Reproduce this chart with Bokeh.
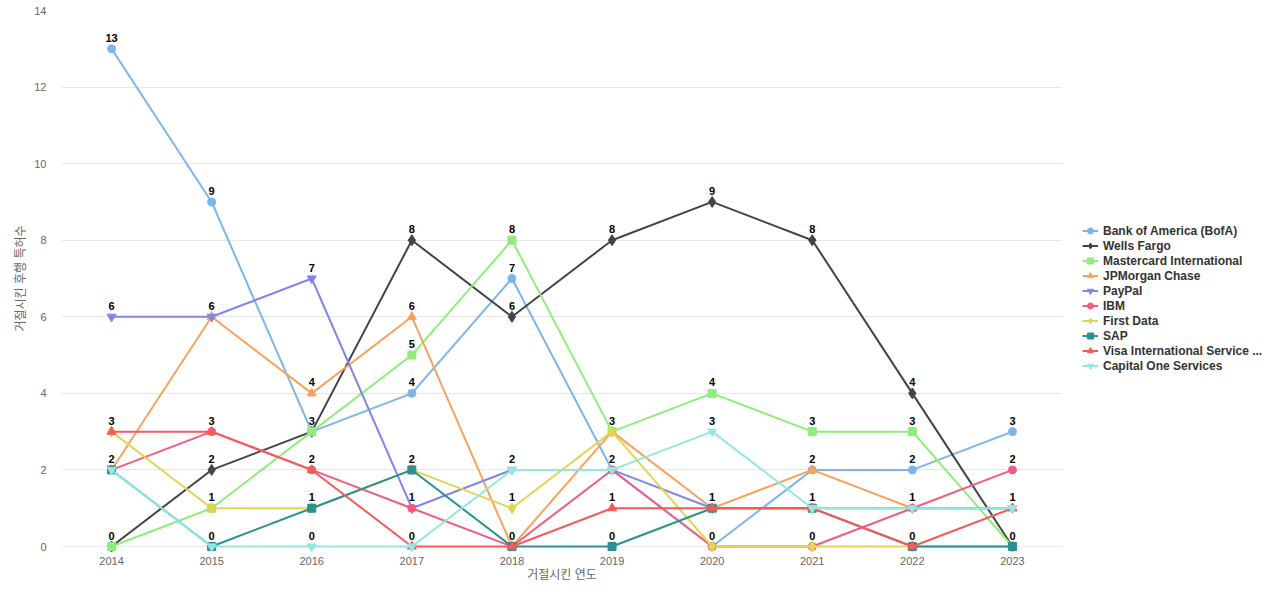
from bokeh.plotting import figure
from bokeh.models import (ColumnDataSource, Legend, LegendItem, FixedTicker,
                          Span, Range1d, FactorRange)
from bokeh.layouts import row
from bokeh.core.properties import value
from bokeh.embed import file_html
from bokeh.resources import INLINE

years = ["2014", "2015", "2016", "2017", "2018", "2019", "2020", "2021", "2022", "2023"]

series_names = [
    "Bank of America (BofA)", "Wells Fargo", "Mastercard International",
    "JPMorgan Chase", "PayPal", "IBM", "First Data", "SAP",
    "Visa International Service ...", "Capital One Services",
]

bofa = [13, 9, 3, 4, 7, 2, 0, 2, 2, 3]
wells = [0, 2, 3, 8, 6, 8, 9, 8, 4, 0]
mastercard = [0, 1, 3, 5, 8, 3, 4, 3, 3, 0]
jpmorgan = [2, 6, 4, 6, 0, 3, 1, 2, 1, 1]
paypal = [6, 6, 7, 1, 2, 2, 1, 1, 1, 1]
ibm = [2, 3, 2, 1, 0, 2, 0, 0, 1, 2]
first_data = [3, 1, 1, 2, 1, 3, 0, 0, 0, 0]
sap = [2, 0, 1, 2, 0, 0, 1, 1, 0, 0]
visa = [3, 3, 2, 0, 0, 1, 1, 1, 0, 1]
capital_one = [2, 0, 0, 0, 2, 2, 3, 1, 1, 1]

series_values = [bofa, wells, mastercard, jpmorgan, paypal, ibm,
                 first_data, sap, visa, capital_one]

colors = ["#7cb5ec", "#434348", "#90ed7d", "#f7a35c", "#8085e9",
          "#f15c80", "#e4d354", "#2b908f", "#f45b5b", "#91e8e1"]
markers = ["circle", "diamond", "square", "triangle", "inverted_triangle"] * 2
marker_sizes = {"circle": 8, "diamond": 11, "square": 8, "triangle": 9, "inverted_triangle": 9}

FONT = "Liberation Sans, Noto Sans CJK KR"

p = figure(width=1070, height=584,
           x_range=FactorRange(*years, range_padding=0),
           y_range=Range1d(0, 14),
           output_backend="svg", toolbar_location=None,
           min_border_left=61, min_border_top=10, min_border_bottom=38,
           min_border_right=8)

p.outline_line_color = None
p.background_fill_color = "white"
p.border_fill_color = "white"

# grid
p.xgrid.grid_line_color = None
p.ygrid.grid_line_color = "#e6e6e6"
p.ygrid.grid_line_width = 1

# y axis
p.yaxis.ticker = FixedTicker(ticks=[0, 2, 4, 6, 8, 10, 12, 14])
p.yaxis.axis_line_color = None
p.yaxis.major_tick_line_color = None
p.yaxis.minor_tick_line_color = None
p.yaxis.major_tick_out = 0
p.yaxis.major_tick_in = 0
p.yaxis.minor_tick_out = 0
p.yaxis.major_label_standoff = 15
p.yaxis.major_label_text_font = FONT
p.yaxis.major_label_text_font_size = "11px"
p.yaxis.major_label_text_color = "#666666"
p.yaxis.axis_label = "거절시킨 후행 특허수"
p.yaxis.axis_label_text_font = FONT
p.yaxis.axis_label_text_font_size = "12px"
p.yaxis.axis_label_text_font_style = "normal"
p.yaxis.axis_label_text_color = "#666666"
p.yaxis.axis_label_standoff = 3

# x axis
p.xaxis.axis_line_color = None
p.xaxis.major_tick_line_color = None
p.xaxis.minor_tick_line_color = None
p.xaxis.major_tick_out = 0
p.xaxis.major_tick_in = 0
p.xaxis.major_label_standoff = 10
p.xaxis.major_label_text_font = FONT
p.xaxis.major_label_text_font_size = "11px"
p.xaxis.major_label_text_color = "#666666"
p.xaxis.axis_label = "거절시킨 연도"
p.xaxis.axis_label_text_font = FONT
p.xaxis.axis_label_text_font_size = "12px"
p.xaxis.axis_label_text_font_style = "normal"
p.xaxis.axis_label_text_color = "#666666"
p.xaxis.axis_label_standoff = 0

p.add_layout(Span(location=0, dimension="width", line_color="#ccd6eb", line_width=1,
                  level="underlay"))

# legend figure (separate panel on the right)
lf = figure(width=194, height=584, output_backend="svg", toolbar_location=None,
            x_range=Range1d(0, 1), y_range=Range1d(0, 1),
            x_axis_type=None, y_axis_type=None,
            min_border_left=0, min_border_right=0, min_border_top=0, min_border_bottom=0)
lf.outline_line_color = None
lf.xgrid.visible = False
lf.ygrid.visible = False

items = []
for name, vals, col, mk in zip(series_names, series_values, colors, markers):
    src = ColumnDataSource(dict(x=years, y=vals))
    ln = p.line("x", "y", source=src, line_color=col, line_width=2, level="overlay")
    sc = p.scatter("x", "y", source=src, marker=mk, size=marker_sizes[mk],
                   fill_color=col, line_color=col, line_width=1, level="overlay")
    # legend proxies: a single point kept outside the legend panel's visible range
    lln = lf.line(x=[-5, -4], y=[-5, -5], line_color=col, line_width=2)
    lsc = lf.scatter(x=[-5], y=[-5], marker=mk, size=marker_sizes[mk],
                     fill_color=col, line_color=col, line_width=1)
    items.append(LegendItem(label=name, renderers=[lln, lsc]))

# data labels: one per distinct value at each year
lx, ly, lt = [], [], []
for i, yr in enumerate(years):
    seen = sorted({vals[i] for vals in series_values})
    for v in seen:
        lx.append(yr)
        ly.append(v)
        lt.append(str(v))
lsrc = ColumnDataSource(dict(x=lx, y=ly, t=lt))
p.text("x", "y", text="t", source=lsrc, text_align="center",
       text_baseline="bottom", y_offset=-7, level="overlay",
       text_font=value(FONT), text_font_size="11px", text_font_style="bold",
       text_color="#000000")

legend = Legend(items=items, location=(12, 173))
legend.margin = 0
legend.padding = 0
legend.spacing = 0
legend.border_line_color = None
legend.background_fill_color = None
legend.background_fill_alpha = 0
legend.glyph_width = 16
legend.glyph_height = 15
legend.label_height = 15
legend.label_standoff = 5
legend.label_text_font = FONT
legend.label_text_font_size = "12px"
legend.label_text_font_style = "bold"
legend.label_text_color = "#333333"
lf.add_layout(legend, "center")

layout = row(p, lf)
open("out.html", "w").write(file_html(layout, INLINE))
